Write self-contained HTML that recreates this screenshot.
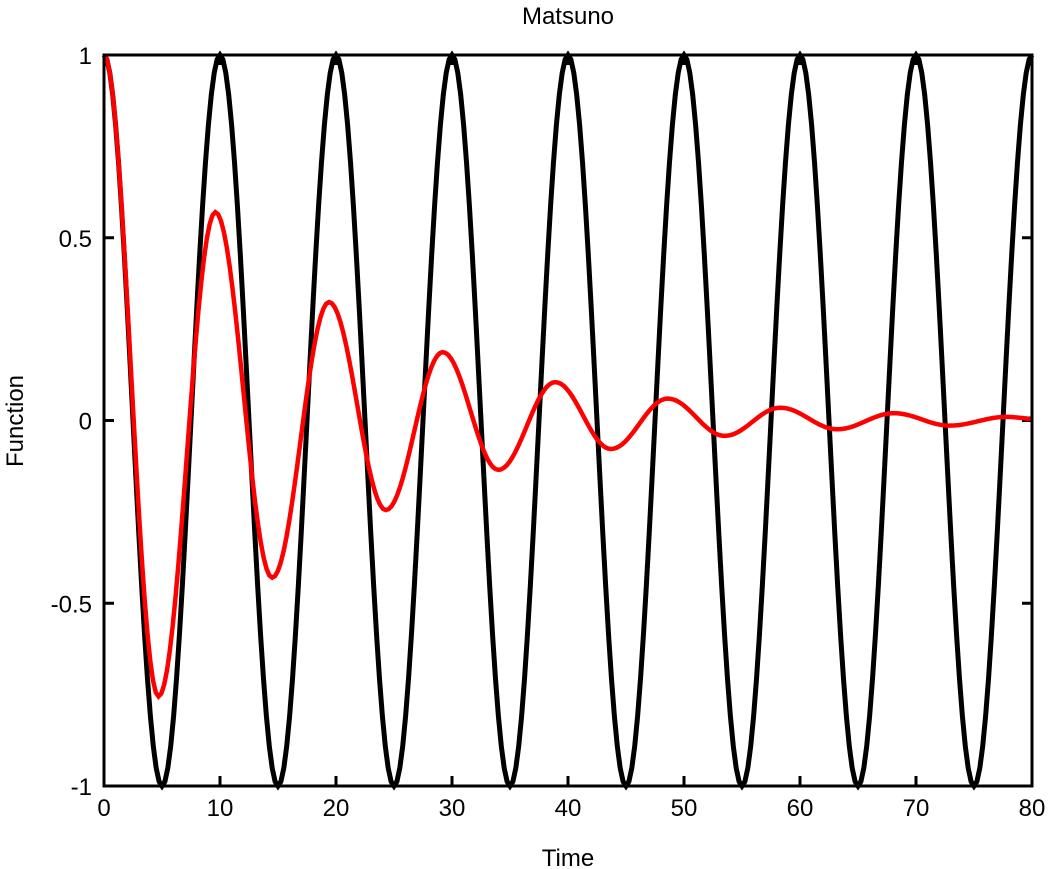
<!DOCTYPE html>
<html><head><meta charset="utf-8"><style>
html,body{margin:0;padding:0;background:#fff;}
svg{display:block;font-family:"Liberation Sans",Arial,sans-serif;}
</style></head><body>
<svg id="chart" width="1051" height="869" viewBox="0 0 1051 869">
<text x="568" y="24" font-size="24" text-anchor="middle">Matsuno</text>
<text x="568" y="866" font-size="24" text-anchor="middle">Time</text>
<text x="0" y="0" font-size="24" text-anchor="middle" transform="translate(23,421) rotate(-90)">Function</text>
<g id="ticks"></g>
<g id="series"></g>
<rect x="104" y="55" width="928" height="731" fill="none" stroke="#000" stroke-width="3"/>
</svg>
<script>
const xTicks=[0,10,20,30,40,50,60,70,80];
const yTicks=[-1,-0.5,0,0.5,1];
const yTickLabels=["-1","-0.5","0","0.5","1"];
// extrema (time, value) of each series
const blackT=[0,5,10,15,20,25,30,35,40,45,50,55,60,65,70,75,80];
const blackV=[1,-1,1,-1,1,-1,1,-1,1,-1,1,-1,1,-1,1,-1,1];
const redT=[0,4.7,9.6,14.5,19.4,24.3,29.2,34.0,38.9,43.7,48.6,53.5,58.3,63.2,68.1,72.9,77.8,80];
const redV=[1,-0.755,0.57,-0.43,0.324,-0.245,0.187,-0.135,0.105,-0.078,0.06,-0.042,0.035,-0.024,0.02,-0.014,0.01,0.005];

const X0=104,X1=1032,Y0=786,Y1=55;
const xs=t=>X0+(t-0)/(80-0)*(X1-X0);
const ys=v=>Y0-(v+1)/2*(Y0-Y1);
const NS="http://www.w3.org/2000/svg";
const ticks=document.getElementById('ticks');
xTicks.forEach(t=>{
  const x=xs(t);
  [[Y0,Y0-10],[Y1,Y1+10]].forEach(([a,b])=>{
    const l=document.createElementNS(NS,'line');
    
    
    l.setAttribute('x1',x);l.setAttribute('x2',x);l.setAttribute('y1',a);l.setAttribute('y2',b);
    l.setAttribute('stroke','#000');l.setAttribute('stroke-width','3');ticks.appendChild(l);
  });
  const tx=document.createElementNS(NS,'text');
  
  
  tx.setAttribute('x',x);tx.setAttribute('y',Y0+30);tx.setAttribute('font-size','24');tx.setAttribute('text-anchor','middle');
  tx.textContent=String(t);ticks.appendChild(tx);
});
yTicks.forEach((v,i)=>{
  const y=ys(v);
  [[X0,X0+10],[X1,X1-10]].forEach(([a,b])=>{
    const l=document.createElementNS(NS,'line');
    
    
    l.setAttribute('x1',a);l.setAttribute('x2',b);l.setAttribute('y1',y);l.setAttribute('y2',y);
    l.setAttribute('stroke','#000');l.setAttribute('stroke-width','3');ticks.appendChild(l);
  });
  const tx=document.createElementNS(NS,'text');
  
  
  tx.setAttribute('x',X0-12);tx.setAttribute('y',y+9);tx.setAttribute('font-size','24');tx.setAttribute('text-anchor','end');
  tx.textContent=yTickLabels[i];ticks.appendChild(tx);
});
function pathFrom(T,V){
  let d='M'+xs(T[0]).toFixed(2)+','+ys(V[0]).toFixed(2);
  for(let i=0;i<T.length-1;i++){
    const n=20;
    for(let k=1;k<=n;k++){
      const f=k/n, s=(1-Math.cos(Math.PI*f))/2;
      const t=T[i]+(T[i+1]-T[i])*f, v=V[i]+(V[i+1]-V[i])*s;
      d+=' L'+xs(t).toFixed(2)+','+ys(v).toFixed(2);
    }
  }
  return d;
}
const g=document.getElementById('series');
const pb=document.createElementNS(NS,'path');


pb.setAttribute('d',pathFrom(blackT,blackV));pb.setAttribute('fill','none');pb.setAttribute('stroke','#000');pb.setAttribute('stroke-width','5');
g.appendChild(pb);
const pr=document.createElementNS(NS,'path');


pr.setAttribute('d',pathFrom(redT,redV));pr.setAttribute('fill','none');pr.setAttribute('stroke','#ff0000');pr.setAttribute('stroke-width','4.5');
g.appendChild(pr);
</script>
</body></html>
